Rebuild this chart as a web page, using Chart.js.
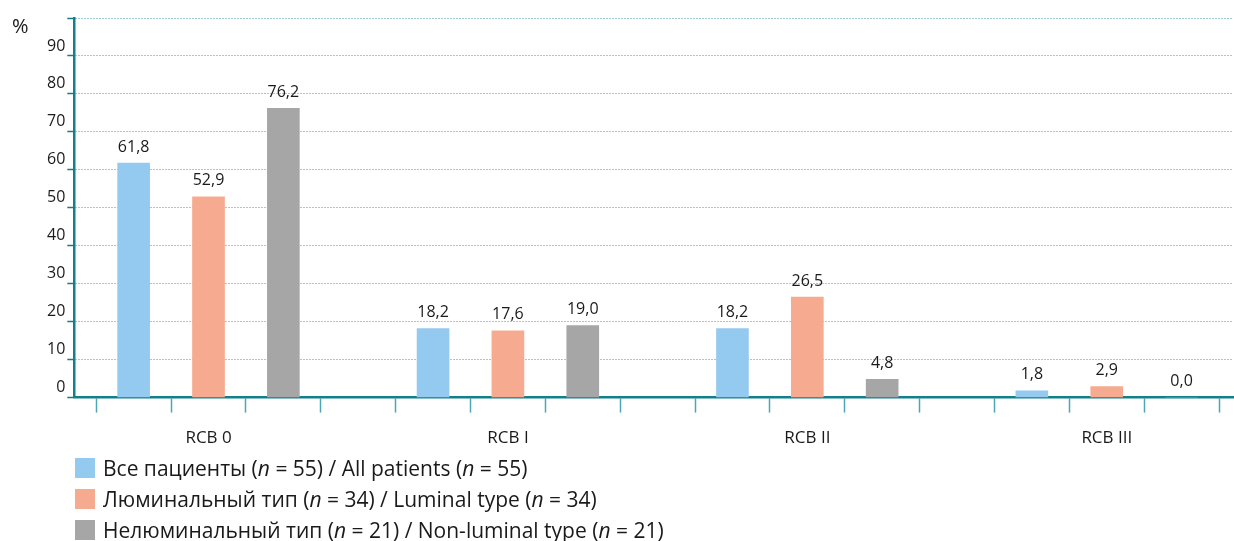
<!DOCTYPE html>
<html>
<head>
<meta charset="utf-8">
<script src="https://cdn.jsdelivr.net/npm/chart.js@4"></script>
<style>
  body { margin: 0; background: #fff; font-family: "Open Sans", sans-serif; color: #1a1a1a; }
  #wrap { position: relative; width: 1234px; height: 541px; }
  #chartBox { position: absolute; left: 0; top: 0; width: 1234px; height: 463px; }
  #pct { position: absolute; left: 12px; top: 12px; font-size: 20px; }
  #legend { position: absolute; left: 75px; top: 452px; }
  .leg-row { height: 31px; display: flex; align-items: center; font-size: 21px; white-space: nowrap; }
  .leg-box { width: 20px; height: 20px; margin-right: 8px; flex: none; }
</style>
</head>
<body>
<div id="wrap">
  <div id="chartBox"><canvas id="rcbChart"></canvas></div>
  <div id="pct">%</div>
  <div id="legend"></div>
</div>
<script>
// ===== DATA =====
const categories = ["RCB 0", "RCB I", "RCB II", "RCB III"];
const allPatients = [61.8, 18.2, 18.2, 1.8];
const luminal = [52.9, 17.6, 26.5, 2.9];
const nonLuminal = [76.2, 19.0, 4.8, 0.0];
const yTicks = [0, 10, 20, 30, 40, 50, 60, 70, 80, 90];

const seriesNames = [
  "Все пациенты (<i>n</i> = 55) / All patients (<i>n</i> = 55)",
  "Люминальный тип (<i>n</i> = 34) / Luminal type (<i>n</i> = 34)",
  "Нелюминальный тип (<i>n</i> = 21) / Non-luminal type (<i>n</i> = 21)",
];
const seriesColors = ["#95caf0", "#f6ab91", "#a6a6a6"];
const seriesValues = [allPatients, luminal, nonLuminal];

const TEAL = "#127f8b";
const FONT = "'Open Sans', sans-serif";
const SLOTS = 4; // 3 bars + gap per group

// bars sit in slots: group g, series s -> g*4 + s + 0.5
const datasets = seriesValues.map((vals, s) => ({
  label: seriesNames[s],
  data: vals.map((v, g) => ({ x: g * SLOTS + s + 0.5, y: v })),
  backgroundColor: seriesColors[s],
  barThickness: 32,
  grouped: false,
}));

/* ===== value labels above bars ===== */
const valueLabels = {
  id: "valueLabels",
  afterDatasetsDraw(chart) {
    const { ctx } = chart;
    ctx.save();
    ctx.font = "16px " + FONT;
    ctx.fillStyle = "#1a1a1a";
    ctx.textAlign = "center";
    ctx.textBaseline = "middle";
    chart.data.datasets.forEach((ds, i) => {
      chart.getDatasetMeta(i).data.forEach((bar, j) => {
        const txt = ds.data[j].y.toFixed(1).replace(".", ",");
        ctx.fillText(txt, bar.x, bar.y - 16);
      });
    });
    ctx.restore();
  },
};

const ctx = document.getElementById("rcbChart").getContext("2d");
const chart = new Chart(ctx, {
  type: "bar",
  data: { datasets },
  options: {
    responsive: true,
    maintainAspectRatio: false,
    animation: false,
    layout: { padding: { top: 18, left: 45, right: 0, bottom: 0 } },
    plugins: { legend: { display: false }, tooltip: { enabled: false } },
    scales: {
      x: {
        type: "linear",
        offset: false,
        min: -0.293,
        max: 15.19,
        afterBuildTicks: (axis) => {
          axis.ticks = [];
          for (let i = 0; i <= categories.length * SLOTS - 1; i++) axis.ticks.push({ value: i });
        },
        ticks: {
          autoSkip: false,
          maxRotation: 0,
          padding: 15,
          labelOffset: 37.5,
          color: "#1a1a1a",
          font: { family: FONT, size: 17 },
          callback: (v) => (v % SLOTS === 1 ? categories[(v - 1) / SLOTS] : ""),
        },
        grid: {
          offset: false,
          drawOnChartArea: false,
          drawTicks: true,
          tickLength: 15,
          tickColor: "#4aa8b4",
          tickWidth: 1.5,
        },
        border: { color: TEAL, width: 2.5 },
      },
      y: {
        min: 0,
        max: 100,
        afterBuildTicks: (axis) => {
          axis.ticks = yTicks.concat([100]).map((v) => ({ value: v }));
        },
        ticks: {
          padding: 2,
          labelOffset: -10,
          color: "#1a1a1a",
          font: { family: FONT, size: 16 },
          callback: (v) => (yTicks.includes(v) ? String(v) : ""),
        },
        grid: {
          color: "#3a9aa6",
          lineWidth: 1,
          tickLength: 7,
          tickColor: TEAL,
          tickWidth: 1.5,
          tickBorderDash: [],
        },
        border: { color: TEAL, width: 2.5, dash: [1, 2] },
      },
    },
  },
  plugins: [valueLabels],
});

/* ===== HTML legend ===== */
const legend = document.getElementById("legend");
seriesNames.forEach((name, i) => {
  const row = document.createElement("div");
  row.className = "leg-row";
  row.innerHTML = `<span class="leg-box" style="background:${seriesColors[i]}"></span><span>${name}</span>`;
  legend.appendChild(row);
});
</script>
</body>
</html>
